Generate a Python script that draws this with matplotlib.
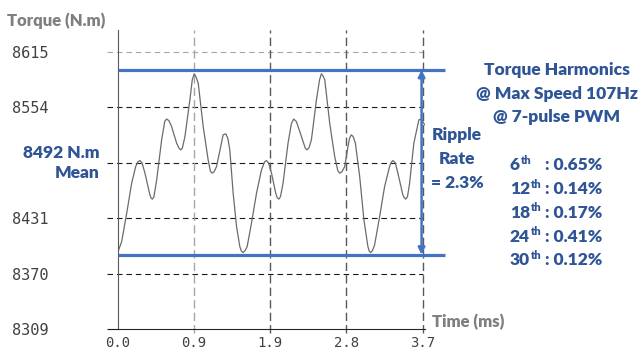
import matplotlib

matplotlib.use("Agg")   # headless backend
import matplotlib.pyplot as plt

# torque waveform (time in ms, torque in N.m)
time_ms = [0.00, 0.045, 0.107, 0.168, 0.217, 0.245, 0.270, 0.295, 0.331, 0.392,
           0.405, 0.421, 0.440, 0.475, 0.536, 0.575, 0.597, 0.625, 0.658, 0.720,
           0.750, 0.769, 0.790, 0.822, 0.883, 0.912, 0.936, 0.960, 0.985, 1.046,
           1.107, 1.135, 1.156, 1.180, 1.210, 1.291, 1.324, 1.350, 1.373, 1.414,
           1.456, 1.496, 1.515, 1.536, 1.560, 1.586, 1.639, 1.701, 1.762, 1.800,
           1.823, 1.850, 1.885, 1.937, 1.955, 1.974, 1.995, 2.027, 2.088, 2.130,
           2.158, 2.190, 2.232, 2.300, 2.321, 2.345, 2.375, 2.437, 2.475, 2.498,
           2.520, 2.539, 2.600, 2.661, 2.700, 2.722, 2.750, 2.784, 2.824, 2.845,
           2.866, 2.890, 2.915, 2.968, 3.020, 3.069, 3.085, 3.102, 3.125, 3.151,
           3.213, 3.274, 3.335, 3.355, 3.376, 3.405, 3.437, 3.498, 3.515, 3.532,
           3.555, 3.581, 3.633, 3.695, 3.719, 3.744, 3.765]
torque = [8394.4, 8405.4, 8436.8, 8470.0, 8488.3, 8493.5, 8494.9, 8492.5, 8481.0, 8457.0,
          8453.8, 8452.3, 8454.5, 8473.6, 8517.8, 8538.5, 8540.7, 8539.0, 8532.5, 8514.1,
          8508.5, 8506.7, 8508.5, 8521.4, 8562.0, 8584.0, 8590.7, 8587.0, 8580.4, 8532.5,
          8495.7, 8483.0, 8481.0, 8482.5, 8488.3, 8523.3, 8524.4, 8519.0, 8506.7, 8458.9,
          8422.0, 8399.9, 8395.0, 8393.3, 8395.5, 8399.9, 8425.8, 8458.9, 8484.6, 8493.5,
          8494.9, 8492.0, 8481.0, 8458.9, 8454.0, 8452.3, 8455.0, 8470.0, 8514.1, 8536.0,
          8540.7, 8538.0, 8527.0, 8508.5, 8506.7, 8509.0, 8517.8, 8562.0, 8584.0, 8590.7,
          8588.0, 8584.1, 8536.0, 8499.3, 8483.5, 8481.0, 8482.5, 8488.3, 8510.4, 8520.0,
          8523.3, 8521.0, 8514.1, 8477.2, 8429.4, 8399.9, 8395.0, 8393.3, 8395.5, 8401.8,
          8433.1, 8466.2, 8488.3, 8493.0, 8494.9, 8492.5, 8481.0, 8457.0, 8454.0, 8452.3,
          8455.0, 8470.0, 8514.1, 8539.9, 8540.5, 8538.0, 8534.4]

y_ticks = [8309, 8370, 8431, 8492, 8554, 8615]
y_tick_labels = ["8309", "8370", "8431", "", "8554", "8615"]
x_ticks = [0.0, 0.935, 1.87, 2.805, 3.74]
x_tick_labels = ["0.0", "0.9", "1.9", "2.8", "3.7"]
torque_max = 8595
torque_min = 8391
torque_mean = 8492
ripple_pct = 2.3
speed_hz = 107
pulses = 7
harmonic_orders = [6, 12, 18, 24, 30]
harmonic_pct = [0.65, 0.14, 0.17, 0.41, 0.12]

BLUE_LINE = "#4472C4"
BLUE_TEXT = "#2F5597"
GRAY_TEXT = "#7F7F7F"
FONT = "Lato"
W, H = 644, 351


def px(x, y):
    """pixel position in the 644x351 canvas -> figure fraction"""
    return x / W, 1 - y / H


fig = plt.figure(figsize=(6.44, 3.51), dpi=100)
ax = fig.add_axes([118 / W, 22 / H, 307 / W, 299 / H])
ax.set_xlim(0, 3.77)
ax.set_ylim(8309, 8639)

# dashed reference grid, running a little past the left spine
dash_h = (0, (5, 3.5))
for y in y_ticks[1:]:
    color = "#a6a6a6" if y == y_ticks[-1] else "#1a1a1a"
    ax.hlines(y, -0.135, x_ticks[-1], colors=color, linestyles=dash_h, lw=0.8, clip_on=False)
ax.hlines(y_ticks[0], -0.135, 0, colors="#1a1a1a", lw=0.8, clip_on=False)
for i, x in enumerate(x_ticks[1:]):
    color = "#a6a6a6" if i == 0 else "#595959"
    ax.vlines(x, 8304.5, 8639, colors=color, linestyles=(0, (6, 3)), lw=1.0, clip_on=False)

ax.plot(time_ms, torque, color="#6b6b6b", lw=0.9, solid_joinstyle="round")

# ripple envelope and double arrow
ax.hlines([torque_max, torque_min], 0, 4.02, colors=BLUE_LINE, lw=2.3, clip_on=False, zorder=4)
ax.annotate("", xy=(3.728, torque_max), xytext=(3.728, torque_min),
            arrowprops=dict(arrowstyle="<|-|>", color=BLUE_LINE, lw=1.8,
                            mutation_scale=10, shrinkA=0, shrinkB=0),
            annotation_clip=False, zorder=5)

for side in ("top", "right"):
    ax.spines[side].set_visible(False)
ax.spines["left"].set_color("#595959")
ax.spines["bottom"].set_color("#262626")
ax.set_xticks(x_ticks)
ax.set_xticklabels(x_tick_labels, family="DejaVu Sans Mono", fontsize=10, color="#404040")
ax.set_yticks(y_ticks)
ax.set_yticklabels(y_tick_labels, family="DejaVu Sans Mono", fontsize=11, color="#404040")
ax.tick_params(axis="y", length=0, pad=50)
ax.tick_params(axis="x", length=0, pad=5)

# axis titles
fig.text(*px(7, 26), "Torque (N.m)", family=FONT, weight="heavy", fontsize=12,
         color=GRAY_TEXT, ha="left", va="baseline")
fig.text(*px(432, 327), "Time (ms)", family=FONT, weight="heavy", fontsize=12,
         color=GRAY_TEXT, ha="left", va="baseline")

txt = dict(family=FONT, weight="heavy", fontsize=12.5, color=BLUE_TEXT, va="baseline")

# mean label (takes the place of the 8492 tick label)
fig.text(*px(100, 158), f"{torque_mean} N.m", ha="right", **txt)
fig.text(*px(100, 178.5), "Mean", ha="right", **txt)

# ripple label
for line, y in zip(["Ripple", "Rate", f"= {ripple_pct}%"], [140, 164, 188]):
    fig.text(*px(457, y), line, ha="center", **txt)

# harmonics block
title_lines = ["Torque Harmonics", f"@ Max Speed {speed_hz}Hz", f"@ {pulses}-pulse PWM"]
for line, y in zip(title_lines, [75, 98.5, 122]):
    fig.text(*px(557, y), line, ha="center", **txt)

row_y = [170, 194, 217.5, 241.5, 265]
for order, pct, y in zip(harmonic_orders, harmonic_pct, row_y):
    num = fig.text(*px(510, y), str(order), ha="left", **txt)
    ax.annotate("th", xy=(1, 1), xycoords=num, xytext=(0.5, 1.5), textcoords="offset points",
                family=FONT, weight="heavy", fontsize=8, color=BLUE_TEXT, ha="left", va="top",
                annotation_clip=False)
    fig.text(*px(545, y), f": {pct:.2f}%", ha="left", **txt)

fig.savefig("out.png", dpi=100)
